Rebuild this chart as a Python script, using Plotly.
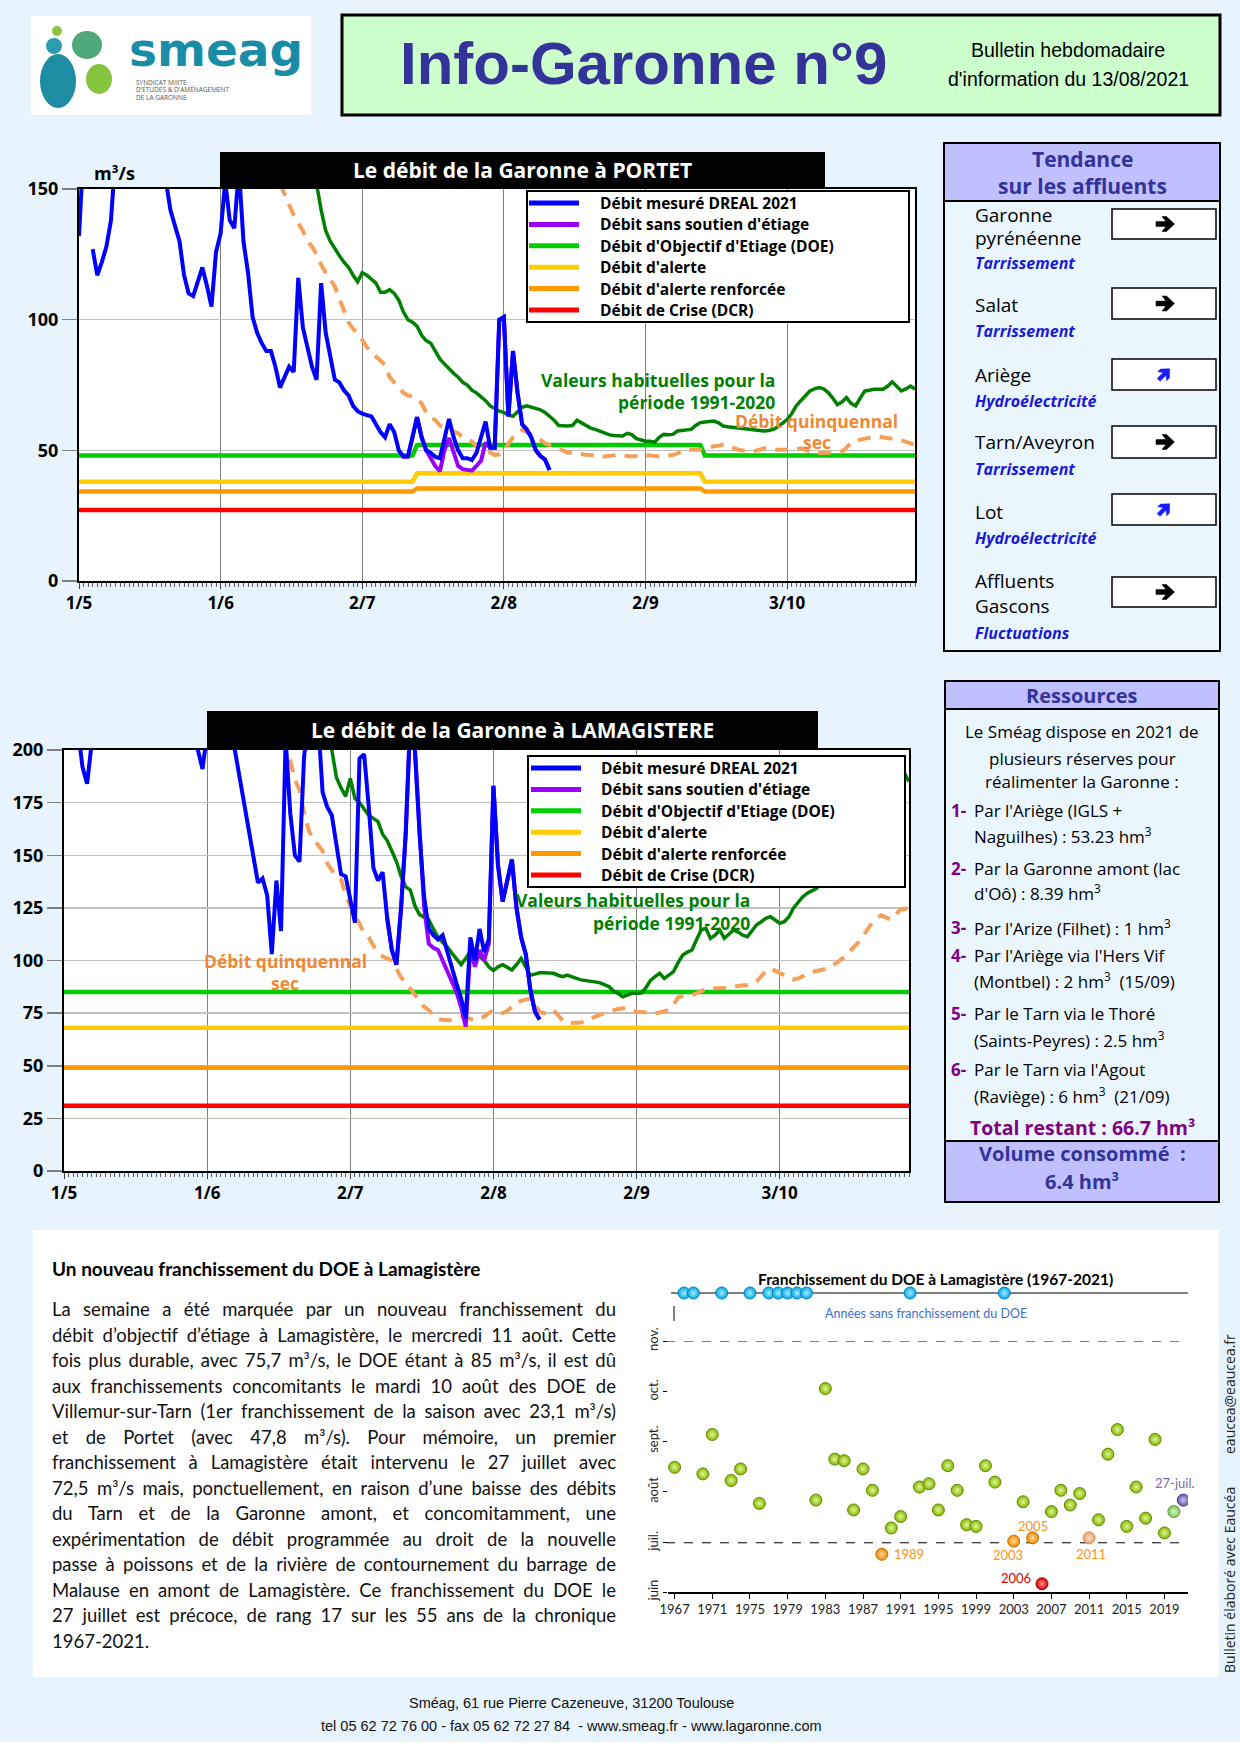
import math
import plotly.graph_objects as go
import pandas as pd

W, H = 1240, 1754
PAGE_BG = "#E8F4FD"
PANEL_BG = "#EAF6FE"
LAV = "#C0C0FF"
NAVY = "#333399"
PURPLE_T = "#800080"
BLUE_T = "#1A1AD6"
FC = "Open Sans"
FT = "Lato"
FN = "Liberation Sans Narrow, Liberation Sans, sans-serif"

# ------------------------------------------------------------------ DATA
date_ticks = ["2021-05-01", "2021-06-01", "2021-07-02", "2021-08-02", "2021-09-02", "2021-10-03"]
date_labels = ["1/5", "1/6", "2/7", "2/8", "2/9", "3/10"]

# PORTET (daily values)
portet_mesure_start = "2021-05-01"
portet_mesure = [
    132, 165, None, 127, 117, 122, 128, 138, 160, 185,
    210, 240, 225, 205, 195, 200, 185, 175, 165, 153,
    142, 136, 130, 117, 110, 109, 115, 120, 113, 105,
    126, 133, 153, 138, 135, 158, 130, 118, 101, 95,
    91, 88, 88, 82, 74, 78, 82, 80, 116, 97,
    89, 82, 77, 114, 95, 85, 77, 76, 73, 71,
    67, 65, 64, 63.5, 63, 60, 57, 55, 60, 57,
    50, 47.6, 47.6, 55, 62.7, 55, 50, 49, 47.5, 47,
    55, 62, 55, 50, 47, 47, 46.3, 49, 55, 61,
    51, 51, 100, 101, 63, 88, 72, 60, 58, 55,
    50, 47.8, 46.5, 42.5]
portet_sans_soutien_start = "2021-07-10"
portet_sans_soutien = [
    50, 47.6, 47.6, 55, 62.7, 55, 50, 47, 44, 42,
    50, 54.7, 49, 44, 42.8, 42.5, 42.2, 44, 46, 53,
    51, 51, 100, 101, 63, 88, 72, 60, 58, 55,
    50, 47.8, 46.5, 42.5]
portet_habituel_start = "2021-06-16"
portet_habituel = [
    175, 168, 163, 160, 157, 155, 152, 142, 134, 130,
    127, 124.5, 122, 120, 117, 114.5, 118, 117, 115.5, 114,
    110.5, 110.5, 111.5, 110, 107.5, 103, 100, 99, 97.5, 94,
    92, 91, 88, 85, 83, 81, 79.5, 78, 76, 75,
    73, 72, 70.5, 69, 67, 66, 65, 64.5, 63.5, 63,
    65, 66.5, 67, 66.5, 66, 65.5, 64.5, 63, 61.5, 59.5,
    59.3, 59.3, 59.5, 61.5, 60.5, 59.3, 58.5, 58, 57.4, 56.5,
    56, 55.7, 55.5, 55.5, 56.5, 56, 54.5, 54, 53.5, 53.5,
    53, 55, 56.1, 56, 56.1, 57.4, 57.5, 57.8, 58, 59.5,
    60.6, 60.8, 61, 61.2, 60.5, 59.3, 59, 58.8, 58.7, 58.5,
    58.2, 58, 57.8, 57.5, 57.4, 57.6, 58, 59, 60.5, 61.8,
    64, 67, 69, 71, 72.7, 73.5, 74, 73.5, 72.1, 70,
    67.5, 68.5, 70.2, 68, 67, 70, 72.7, 73, 73.4, 73.4,
    73.4, 74.5, 76.2, 74.5, 72.7, 73.5, 74.6, 73.4]
portet_quinquennal_start = "2021-06-14"
portet_quinquennal = [
    152, 148, 144.6, 140, 137, 134, 130, 128, 125, 121,
    118, 115, 112.7, 108, 103, 99, 96.5, 94.8, 92.3, 89.5,
    87.5, 86, 84, 82.7, 78, 76, 74.5, 72, 71, 70.6,
    69.5, 68, 64.5, 62.5, 61.6, 59.5, 58.5, 57.8, 57, 56.5,
    55, 54, 53.3, 51.5, 50.5, 50.2, 49, 48.2, 48.5, 50,
    52.5, 55, 56.5, 57.8, 57, 56, 55.3, 54, 52.7, 52,
    51, 50.2, 49.5, 49.2, 49, 48.7, 48.5, 48.3, 48.2, 48,
    47.8, 47.6, 47.8, 48, 48.2, 48, 47.8, 47.6, 47.8, 48,
    48.2, 48, 47.8, 47.6, 47.8, 48, 48.2, 48.8, 49.5, 50.2,
    50.2, 50.2, 50.2, 50.6, 51.2, 51.6, 51.8, 52.1, 51.8, 51,
    50.4, 50, 49.7, 49.5, 49.8, 50.5, 50.8, 50.5, 50.2, 50.2,
    50.2, 50.2, 50.3, 50.5, 50.8, 50.2, 49.5, 49, 49, 49,
    49, 49.2, 49.4, 49.5, 51, 53, 53.8, 54.2, 54.6, 54.9,
    55.1, 55.2, 55, 54.8, 54.6, 54.2, 53.8, 53.3, 52.7, 52.1]
portet_seuil_dates = ["2021-05-01", "2021-07-13", "2021-07-14", "2021-09-14", "2021-09-15", "2021-10-31"]
portet_doe = [48, 48, 52, 52, 48, 48]
portet_alerte = [38, 38, 41.2, 41.2, 38, 38]
portet_renforcee = [34.2, 34.2, 35.4, 35.4, 34.2, 34.2]
portet_crise = [27.2, 27.2, 27.2, 27.2, 27.2, 27.2]

# LAMAGISTERE (daily values)
lamag_mesure_start = "2021-05-01"
lamag_mesure = [
    230, 225, 218, 210, 192, 184, 200, 215, 240, 260,
    280, 300, 290, 270, 260, 250, 240, 235, 230, 245,
    260, 280, 270, 255, 240, 230, 220, 215, 210, 200,
    191, 208, 230, 250, 240, 225, 210, 200, 187, 176,
    162, 148, 137, 139, 131, 103, 138, 114, 205, 170,
    150, 147, 197, 215, 230, 215, 180, 173, 169, 155,
    141, 140, 129, 118, 196, 198, 173, 144, 138, 142,
    120, 105, 98, 125, 160, 215, 200, 160, 130, 115,
    112, 110, 112, 104, 96, 89, 82, 72.5, 111, 100,
    115, 104, 110, 183, 145, 128, 138, 148, 125, 111,
    103, 86, 75.7, 72]
lamag_sans_soutien_start = "2021-07-10"
lamag_sans_soutien = [
    120, 105, 98, 125, 160, 215, 200, 160, 125, 108,
    106, 105, 100, 96, 90, 85, 78, 68.6, 106, 97,
    105, 100, 108, 183, 145, 128, 138, 148, 125, 111,
    103, 86, 75.7, 72]
lamag_habituel_start = "2021-06-25"
lamag_habituel = [
    225, 215, 207, 200, 187, 182, 178, 186.5, 177, 175,
    172, 169, 167.5, 166, 160, 157, 152, 147, 140, 135,
    133.5, 126, 121.8, 120.5, 119.4, 115, 111, 108.5, 106.5, 103.5,
    101, 98, 101, 104.2, 103, 101.8, 100, 97, 95.2, 97,
    98, 96.5, 95.5, 98, 101, 97, 93, 93.5, 94.2, 94.2,
    94, 93.9, 93, 92.3, 93.1, 92.5, 91.5, 90.8, 90.4, 90.2,
    89.9, 89.5, 88.5, 87.6, 85.5, 84.4, 82.8, 83.5, 84.4, 84.4,
    84.5, 87, 90.5, 92.3, 93.9, 91.5, 93, 94.7, 99, 102.6,
    104, 105, 110, 114.5, 115.3, 110.5, 112, 114.5, 110.6, 112.5,
    114.5, 113.5, 112, 111.3, 114, 117, 118.4, 120, 120.8, 119,
    117.7, 118.4, 120.8, 125, 128, 130.3, 132, 133, 134.3, 137,
    140, 144, 148, 152, 155, 158, 161, 164, 167, 170,
    172, 175, 178, 180, 182, 184, 187, 189, 185]
lamag_quinquennal_start = "2021-06-17"
lamag_quinquennal = [
    205, 200, 195, 186, 181, 170, 162, 157, 155, 152,
    146, 143, 140, 138.5, 131, 126, 121, 117.5, 113, 111,
    107, 104, 102, 101, 100, 96, 92, 89.5, 86.5, 83.5,
    81, 78, 76.5, 74, 72.5, 71.7, 71.7, 71.5, 72, 73,
    72.8, 72, 71.7, 72.5, 73.3, 75, 76.5, 76, 75, 76,
    78, 80, 80.8, 81.5, 82, 79, 75.5, 75, 76, 76.5,
    74, 71.5, 70.2, 70.2, 70.2, 70.5, 71.5, 72.5, 73.3, 74,
    75, 75.7, 76.5, 77, 77.3, 77.3, 76.5, 75.7, 75.5, 75.2,
    75, 74.9, 75.3, 76, 76.5, 79, 82.5, 83, 83.3, 83.6,
    84.5, 85.5, 86.3, 86.8, 86.8, 86.8, 86.8, 87, 87.5, 88,
    88.2, 88.4, 89, 90, 92.5, 95, 96.3, 95, 94, 93,
    92, 91, 91.5, 92.5, 94, 94.5, 95, 95.5, 96, 97,
    98.5, 100, 101.5, 104, 106, 108.5, 111.3, 115, 118, 120,
    121.5, 120.5, 119.5, 121.5, 124, 124.5, 124.8]
lamag_seuil_dates = ["2021-05-01", "2021-10-31"]
lamag_doe = [85, 85]
lamag_alerte = [68, 68]
lamag_renforcee = [49, 49]
lamag_crise = [31, 31]

legend_labels = ["Débit mesuré DREAL 2021", "Débit sans soutien d'étiage",
                 "Débit d'Objectif d'Etiage (DOE)", "Débit d'alerte",
                 "Débit d'alerte renforcée", "Débit de Crise (DCR)"]
legend_colors = ["#0000FF", "#9900FF", "#00CC00", "#FFCC00", "#FF9900", "#FF0000"]

# DOE crossing chronicle (Lamagistère)
no_cross_years = [1968, 1969, 1972, 1975, 1977, 1978, 1979, 1980, 1981, 1992, 2002]
cross_years = [1967, 1970, 1971, 1973, 1974, 1976, 1982, 1983, 1984, 1985,
               1986, 1987, 1988, 1989, 1990, 1991, 1993, 1994, 1995, 1996,
               1997, 1998, 1999, 2000, 2001, 2003, 2004, 2005, 2006, 2007,
               2008, 2009, 2010, 2011, 2012, 2013, 2014, 2015, 2016, 2017,
               2018, 2019, 2020, 2021]
cross_dates = ["08-16", "08-12", "09-05", "08-08", "08-15", "07-25", "07-27", "10-03", "08-21", "08-20",
               "07-21", "08-15", "08-02", "06-24", "07-10", "07-17", "08-04", "08-06", "07-21", "08-17",
               "08-02", "07-12", "07-11", "08-17", "08-07", "07-02", "07-26", "07-04", "06-06", "07-20",
               "08-02", "07-24", "07-31", "07-04", "07-15", "08-24", "09-08", "07-11", "08-04", "07-16",
               "09-02", "07-07", "07-20", "07-27"]
special_years = {1989: "early", 2003: "early", 2005: "early", 2011: "early_light",
                 2006: "record", 2020: "previous", 2021: "current"}
scatter_year_ticks = [1967, 1971, 1975, 1979, 1983, 1987, 1991, 1995, 1999, 2003, 2007, 2011, 2015, 2019]
month_ticks = ["2000-06-01", "2000-07-01", "2000-08-01", "2000-09-01", "2000-10-01", "2000-11-01"]
month_labels = ["juin", "juil.", "août", "sept.", "oct.", "nov."]

tributaries = [["Garonne", "pyrénéenne"], ["Salat"], ["Ariège"], ["Tarn/Aveyron"], ["Lot"], ["Affluents", "Gascons"]]
trends = ["Tarrissement", "Tarrissement", "Hydroélectricité", "Tarrissement", "Hydroélectricité", "Fluctuations"]
trend_dirs = ["stable", "stable", "up", "stable", "up", "stable"]

resources_intro = ["Le Sméag dispose en 2021 de", "plusieurs réserves pour", "réalimenter la Garonne :"]
resources = [
    ["Par l'Ariège (IGLS +", "Naguilhes) : 53.23 hm<sup>3</sup>"],
    ["Par la Garonne amont (lac", "d'Oô) : 8.39 hm<sup>3</sup>"],
    ["Par l'Arize (Filhet) : 1 hm<sup>3</sup>"],
    ["Par l'Ariège via l'Hers Vif", "(Montbel) : 2 hm<sup>3</sup>  (15/09)"],
    ["Par le Tarn via le Thoré", "(Saints-Peyres) : 2.5 hm<sup>3</sup>"],
    ["Par le Tarn via l'Agout", "(Raviège) : 6 hm<sup>3</sup>  (21/09)"],
]
total_restant = "Total restant : 66.7 hm³"
volume_consomme = "6.4 hm³"

article_title = "Un nouveau franchissement du DOE à Lamagistère"
article_lines = [
    "La semaine a été marquée par un nouveau franchissement du",
    "débit d’objectif d’étiage à Lamagistère, le mercredi 11 août. Cette",
    "fois plus durable, avec 75,7 m³/s, le DOE étant à 85 m³/s, il est dû",
    "aux franchissements concomitants le mardi 10 août des DOE de",
    "Villemur-sur-Tarn (1er franchissement de la saison avec 23,1 m³/s)",
    "et de Portet (avec 47,8 m³/s). Pour mémoire, un premier",
    "franchissement à Lamagistère était intervenu le 27 juillet avec",
    "72,5 m³/s mais, ponctuellement, en raison d’une baisse des débits",
    "du Tarn et de la Garonne amont, et concomitamment, une",
    "expérimentation de débit programmée au droit de la nouvelle",
    "passe à poissons et de la rivière de contournement du barrage de",
    "Malause en amont de Lamagistère. Ce franchissement du DOE le",
    "27 juillet est précoce, de rang 17 sur les 55 ans de la chronique",
    "1967-2021.",
]

# ------------------------------------------------------------------ HELPERS
def px(x):
    return x / W


def py(y):
    return 1 - y / H


shapes, annotations = [], []


def rect(x0, y0, x1, y1, fill="rgba(0,0,0,0)", line=None, lw=0, layer="below"):
    shapes.append(dict(type="rect", xref="paper", yref="paper",
                       x0=px(x0), x1=px(x1), y0=py(y1), y1=py(y0), fillcolor=fill,
                       line=dict(color=line if line else "rgba(0,0,0,0)", width=lw), layer=layer))


def seg(x0, y0, x1, y1, color, width, dash="solid", layer="above"):
    shapes.append(dict(type="line", xref="paper", yref="paper", x0=px(x0), x1=px(x1),
                       y0=py(y0), y1=py(y1), line=dict(color=color, width=width, dash=dash), layer=layer))


def circ(cx, cy, rx, ry, color):
    shapes.append(dict(type="circle", xref="paper", yref="paper", x0=px(cx - rx), x1=px(cx + rx),
                       y0=py(cy + ry), y1=py(cy - ry), fillcolor=color, line=dict(width=0), layer="above"))


ARROW = [(-9, -2.4), (1, -2.4), (-3, -7.5), (1.5, -7.5), (9.5, 0), (1.5, 7.5), (-3, 7.5), (1, 2.4), (-9, 2.4)]


def arrow(cx, cy, angle, color, scale=1.0):
    a = math.radians(angle)
    pts = []
    for x, y in ARROW:
        xr = (x * math.cos(a) - y * math.sin(a)) * scale
        yr = (x * math.sin(a) + y * math.cos(a)) * scale
        pts.append(f"{px(cx + xr):.6f},{py(cy + yr):.6f}")
    shapes.append(dict(type="path", xref="paper", yref="paper", path="M " + " L ".join(pts) + " Z",
                       fillcolor=color, line=dict(color=color, width=0.5), layer="above"))


def text(x, y, s, size, color="black", family=FC, anchor="center", bold=False, italic=False, angle=0):
    if bold:
        s = f"<b>{s}</b>"
    if italic:
        s = f"<i>{s}</i>"
    annotations.append(dict(x=px(x), y=py(y), xref="paper", yref="paper", text=s, showarrow=False,
                            xanchor=anchor, yanchor="middle", textangle=angle,
                            font=dict(family=family, size=size, color=color)))


def days(start, n):
    return pd.date_range(start, periods=n, freq="D")


fig = go.Figure()


def line_trace(x, y, color, width, xa, ya, dash="solid"):
    fig.add_trace(go.Scatter(x=x, y=y, mode="lines", line=dict(color=color, width=width, dash=dash),
                             xaxis=xa, yaxis=ya, showlegend=False, hoverinfo="skip", connectgaps=False))


QDASH = "13px,9px"
# ---------------- Chart 1 : PORTET
for vals, col in [(portet_crise, "#FF0000"), (portet_renforcee, "#FF9900"),
                  (portet_alerte, "#FFCC00"), (portet_doe, "#00CC00")]:
    line_trace(pd.to_datetime(portet_seuil_dates), vals, col, 4.5, "x", "y")
line_trace(days(portet_habituel_start, len(portet_habituel)), portet_habituel, "#008000", 3.5, "x", "y")
line_trace(days(portet_quinquennal_start, len(portet_quinquennal)), portet_quinquennal, "#F5A05A", 4, "x", "y", QDASH)
line_trace(days(portet_sans_soutien_start, len(portet_sans_soutien)), portet_sans_soutien, "#9900FF", 4, "x", "y")
line_trace(days(portet_mesure_start, len(portet_mesure)), portet_mesure, "#0000FF", 4, "x", "y")

# ---------------- Chart 2 : LAMAGISTERE
for vals, col in [(lamag_crise, "#FF0000"), (lamag_renforcee, "#FF9900"),
                  (lamag_alerte, "#FFCC00"), (lamag_doe, "#00CC00")]:
    line_trace(pd.to_datetime(lamag_seuil_dates), vals, col, 4.5, "x2", "y2")
line_trace(days(lamag_habituel_start, len(lamag_habituel)), lamag_habituel, "#008000", 3.5, "x2", "y2")
line_trace(days(lamag_quinquennal_start, len(lamag_quinquennal)), lamag_quinquennal, "#F5A05A", 4, "x2", "y2", QDASH)
line_trace(days(lamag_sans_soutien_start, len(lamag_sans_soutien)), lamag_sans_soutien, "#9900FF", 4, "x2", "y2")
line_trace(days(lamag_mesure_start, len(lamag_mesure)), lamag_mesure, "#0000FF", 4, "x2", "y2")

# ---------------- DOE crossing chronicle  (edge colour, centre highlight, outline)
styles = {
    "normal": ("#86B800", "#E2F59A", "#5E8A00"),
    "early": ("#F08A00", "#FFD9A0", "#C86E00"),
    "early_light": ("#EFA070", "#FCE0CC", "#D98E50"),
    "record": ("#E00000", "#FF9090", "#A00000"),
    "previous": ("#7CC25A", "#D8F5C8", "#5E9A3A"),
    "current": ("#6A5AAE", "#C8C0F0", "#3F3380"),
}
groups = {}
for yr, d in zip(cross_years, cross_dates):
    key = special_years.get(yr, "normal")
    groups.setdefault(key, ([], []))
    groups[key][0].append(yr)
    groups[key][1].append("2000-" + d)
for key, (xs, ys) in groups.items():
    edge, centre, outline = styles[key]
    fig.add_trace(go.Scatter(x=xs, y=ys, mode="markers", xaxis="x3", yaxis="y3", showlegend=False,
                             hoverinfo="skip",
                             marker=dict(size=12, color=edge, gradient=dict(type="radial", color=centre),
                                         line=dict(color=outline, width=1))))
fig.add_trace(go.Scatter(x=no_cross_years, y=[0] * len(no_cross_years), mode="markers", xaxis="x4", yaxis="y4",
                         showlegend=False, hoverinfo="skip",
                         marker=dict(size=12, color="#00A8E8", gradient=dict(type="radial", color="#A8ECFF"),
                                     line=dict(color="#0085B8", width=1))))

# ------------------------------------------------------------------ AXES
def xdate(domain, anchor):
    return dict(domain=domain, anchor=anchor, type="date", range=["2021-05-01", "2021-10-31"],
                tickmode="array", tickvals=date_ticks, ticktext=date_labels,
                showgrid=True, gridcolor="#808080", gridwidth=1,
                showline=True, linecolor="black", linewidth=2, mirror=True,
                ticks="outside", ticklen=6, tickcolor="#404040", tickwidth=1,
                tickfont=dict(family=FC, size=17, color="black", weight="bold"),
                minor=dict(tickmode="linear", tick0="2021-05-01", dtick=86400000, ticks="outside",
                           ticklen=4, tickcolor="#606060", tickwidth=1, showgrid=False),
                zeroline=False, fixedrange=True)


def yval(domain, anchor, rng, dtick):
    return dict(domain=domain, anchor=anchor, range=rng, tickmode="linear", tick0=0, dtick=dtick,
                showgrid=True, gridcolor="#C0C0C0", gridwidth=1.5,
                showline=True, linecolor="black", linewidth=2, mirror=True,
                ticks="outside", ticklen=15, tickcolor="#7F7F7F", tickwidth=1.5,
                tickfont=dict(family=FC, size=18, color="black", weight="bold"),
                zeroline=False, fixedrange=True)


layout = dict(
    width=W, height=H, margin=dict(l=0, r=0, t=0, b=0, pad=0, autoexpand=False),
    paper_bgcolor=PAGE_BG, plot_bgcolor="white", showlegend=False,
    xaxis=xdate([px(79), px(915)], "y"),
    yaxis=yval([py(581), py(189)], "x", [0, 150], 50),
    xaxis2=xdate([px(64), px(909)], "y2"),
    yaxis2=yval([py(1171), py(750)], "x2", [0, 200], 25),
    xaxis3=dict(domain=[px(668), px(1188)], anchor="y3", range=[1966.3, 2021.5], tickmode="array",
                tickvals=scatter_year_ticks, showgrid=False, zeroline=False, showline=True,
                linecolor="black", linewidth=1.5, ticks="outside", ticklen=5, tickcolor="black",
                tickfont=dict(family=FT, size=13, color="#222222")),
    yaxis3=dict(domain=[py(1592), py(1341)], anchor="x3", type="date", range=["2000-06-01", "2000-11-01"],
                tickmode="array", tickvals=month_ticks, ticktext=month_labels, tickangle=-90,
                showgrid=False, zeroline=False, showline=False, ticks="outside", ticklen=4,
                tickcolor="black", tickfont=dict(family=FT, size=13, color="#222222")),
    xaxis4=dict(domain=[px(668), px(1188)], anchor="y4", range=[1966.3, 2021.5], visible=False),
    yaxis4=dict(domain=[py(1302), py(1284)], anchor="x4", range=[-1, 1], visible=False),
)

# ------------------------------------------------------------------ PAGE DECORATION
# header
rect(31, 16, 311, 115, "white")
circ(57, 31, 5, 5, "#8CC63F")
circ(54, 46, 8, 8, "#2A9DB0")
circ(87, 45, 15, 14, "#4FA878")
circ(58, 81, 18, 27, "#1E8CA3")
circ(99, 79, 13, 15, "#86C440")
text(216, 50, "smeag", 47, "#1B8CA8", "DejaVu Sans", bold=True)
text(134, 82, "SYNDICAT MIXTE", 6.5, "#555555", FC, anchor="left")
text(134, 89.5, "D'ÉTUDES & D'AMÉNAGEMENT", 6.5, "#555555", FC, anchor="left")
text(134, 97, "DE LA GARONNE", 6.5, "#555555", FC, anchor="left")
rect(342, 15, 1220, 115, "#CCFFCC", "black", 3)
text(643, 63, "Info-Garonne n°9", 60, NAVY, FN, bold=True)
text(1068, 50, "Bulletin hebdomadaire", 19.5, "black", FN)
text(1068, 79, "d'information du 13/08/2021", 19.5, "black", FN)

# chart titles and labels
rect(220, 152, 825, 188, "black", layer="above")
text(522, 170, "Le débit de la Garonne à PORTET", 21, "white", FC, bold=True)
text(114, 173, "m³/s", 18, "black", FC, bold=True)
rect(207, 711, 818, 750, "black", layer="above")
text(512, 730, "Le débit de la Garonne à LAMAGISTERE", 21, "white", FC, bold=True)

HAB = "#008000"
QUI = "#EE8833"
text(777, 380, "Valeurs habituelles pour la", 17.5, HAB, FC, anchor="right", bold=True)
text(777, 402, "période 1991-2020", 17.5, HAB, FC, anchor="right", bold=True)
text(817, 421, "Débit quinquennal", 17.5, QUI, FC, bold=True)
text(817, 442, "sec", 17.5, QUI, FC, bold=True)
text(752, 900, "Valeurs habituelles pour la", 17.5, HAB, FC, anchor="right", bold=True)
text(752, 923, "période 1991-2020", 17.5, HAB, FC, anchor="right", bold=True)
text(285, 961, "Débit quinquennal", 17.5, QUI, FC, bold=True)
text(285, 983, "sec", 17.5, QUI, FC, bold=True)

# legends (drawn above the curves)
for (bx0, by0, bx1, by1, sx0, sx1, tx, ry0) in [(527, 191, 909, 322, 529, 579, 598, 203),
                                                 (528, 756, 905, 887, 531, 581, 599, 768)]:
    rect(bx0, by0, bx1, by1, "white", "black", 2, layer="above")
    for i, (lab, col) in enumerate(zip(legend_labels, legend_colors)):
        yy = ry0 + i * 21.4
        seg(sx0, yy, sx1, yy, col, 5)
        text(tx, yy, lab, 15.5, "black", FC, anchor="left", bold=True)

# Tendance panel
rect(944, 143, 1220, 651, PANEL_BG, "black", 2)
rect(944, 143, 1220, 201, LAV, "black", 2)
text(1082, 159, "Tendance", 21, NAVY, FC, bold=True)
text(1082, 186, "sur les affluents", 21, NAVY, FC, bold=True)
name_ys = [[215, 238], [305], [375], [442], [512], [581, 606]]
trend_ys = [263, 331, 401, 469, 538, 633]
box_ys = [(209, 239), (288, 319), (359, 390), (426, 458), (494, 525), (577, 607)]
for names, nys, tr, tys, (b0, b1), dr in zip(tributaries, name_ys, trends, trend_ys, box_ys, trend_dirs):
    for nm, ny in zip(names, nys):
        text(973, ny, nm, 19, "black", FC, anchor="left")
    text(973, tys, tr, 16, BLUE_T, FC, anchor="left", bold=True, italic=True)
    rect(1112, b0, 1216, b1, "white", "black", 1.5)
    if dr == "up":
        arrow(1164, (b0 + b1) / 2, -45, "#1A1AFF", 0.85)
    else:
        arrow(1165, (b0 + b1) / 2, 0, "black", 1.0)

# Ressources panel
rect(945, 681, 1219, 1202, PANEL_BG, "black", 2)
rect(945, 681, 1219, 709, LAV, "black", 2)
rect(945, 1141, 1219, 1202, LAV, "black", 2)
text(1082, 695, "Ressources", 20, NAVY, FC, bold=True)
for s, yy in zip(resources_intro, [732, 758, 782]):
    text(1082, yy, s, 17, "black", FC)
res_ys = [[811, 835], [868, 892], [927], [955, 980], [1013, 1039], [1069, 1095]]
for i, (lines, ys) in enumerate(zip(resources, res_ys)):
    text(949, ys[0], f"{i + 1}-", 17, PURPLE_T, FC, anchor="left", bold=True)
    for s, yy in zip(lines, ys):
        text(972, yy, s, 17, "black", FC, anchor="left")
text(1082, 1127, total_restant, 19.5, PURPLE_T, FC, bold=True)
text(1082, 1153, "Volume consommé  :", 20, NAVY, FC, bold=True)
text(1082, 1181, volume_consomme, 20, NAVY, FC, bold=True)

# article block
rect(33, 1230, 1219, 1677, "white")
text(50, 1268, article_title, 19, "black", FT, anchor="left", bold=True)
for i, s in enumerate(article_lines):
    text(50, 1309 + i * 25.5, s, 18.5, "#111111", FT, anchor="left")

# chronicle decorations
text(935, 1279, "Franchissement du DOE à Lamagistère (1967-2021)", 15.5, "black", FT, bold=True)
seg(671, 1293, 1188, 1293, "black", 1.2, layer="below")
seg(674, 1306, 674, 1321, "black", 1, layer="below")
text(926, 1313, "Années sans franchissement du DOE", 12.5, "#3B6FD4", FT)
for m in ["2000-11-01", "2000-07-01"]:
    shapes.append(dict(type="line", xref="paper", yref="y3", x0=px(666), x1=px(1188), y0=m,
                       y1=m, line=dict(color="black", width=1, dash="dash"), layer="below"))
for yr, lab, col, xs, ys in [(1989, "1989", "#F7941D", 27, 0), (2003, "2003", "#F7941D", -6, -14),
                             (2005, "2005", "#F7941D", 0, 12), (2011, "2011", "#F7941D", 2, -16),
                             (2006, "2006", "#E00000", -26, 6), (2021, "27-juil.", "#7A6AA8", -8, 17)]:
    d = cross_dates[cross_years.index(yr)]
    annotations.append(dict(x=yr, y="2000-" + d, xref="x3", yref="y3", text=lab, showarrow=False,
                            xshift=xs, yshift=ys, font=dict(family=FT, size=13, color=col)))
text(1229, 1580, "Bulletin élaboré avec Eaucéa", 14, "#222222", FC, angle=-90)
text(1229, 1394, "eaucea@eaucea.fr", 14, "#222222", FC, angle=-90)

# footer
text(571, 1703, "Sméag, 61 rue Pierre Cazeneuve, 31200 Toulouse", 14.5, "#111111", FN)
text(571, 1726, "tel 05 62 72 76 00 - fax 05 62 72 27 84  - www.smeag.fr - www.lagaronne.com", 14.5, "#111111", FN)
rect(0, 1742, 1240, 1754, "white")

layout["shapes"] = shapes
layout["annotations"] = annotations
fig.update_layout(**layout)

# page without browser margin + justified article paragraph (as in the bulletin)
justify = [s for s in article_lines[:-1]]
js_lines = "[" + ",".join('"' + s.replace('"', '\\"') + '"' for s in justify) + "]"
post = """
document.documentElement.style.margin='0';
document.body.style.margin='0';
document.body.style.overflow='hidden';
var gd = document.getElementById('{plot_id}');
var J = %s;
var TARGET = %d;
gd.querySelectorAll('text.annotation-text').forEach(function(t){
  var s = t.textContent;
  if (J.indexOf(s) >= 0) {
    var bb = t.getBBox();
    var left = bb.x;
    var n = (s.match(/ /g) || []).length;
    var w = t.getComputedTextLength();
    if (n > 0) {
      t.setAttribute('text-anchor', 'start');
      t.setAttribute('x', left);
      t.style.wordSpacing = ((TARGET - w) / n) + 'px';
    }
  }
});
""" % (js_lines, 564)
fig.write_html("out.html", post_script=post, config=dict(displayModeBar=False, staticPlot=True))
